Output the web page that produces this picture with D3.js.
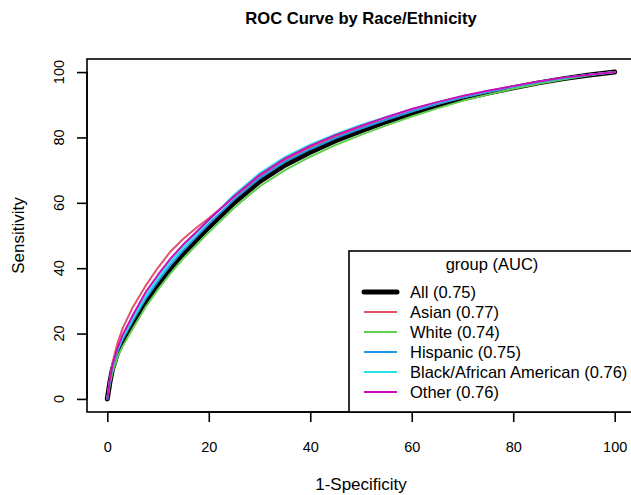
<!DOCTYPE html>
<html>
<head>
<meta charset="utf-8">
<script src="https://cdn.jsdelivr.net/npm/d3@7"></script>
<style>
  body { margin: 0; background: #fff; }
  svg { font-family: "Liberation Sans", Arial, sans-serif; }
</style>
</head>
<body>
<svg id="roc" width="631" height="495"></svg>
<script>
// false positive rate grid (1-Specificity, %)
const fpr = [0, 0.5, 1, 2, 3, 5, 7.5, 10, 12.5, 15, 17.5, 20, 25, 30, 35, 40, 45, 50, 55, 60, 65, 70, 75, 80, 85, 90, 95, 100];

// sensitivity (%) per group
const tprAll      = [0, 5, 9, 14, 17.5, 23, 29.5, 35, 40, 44.5, 48.5, 52.5, 60, 66.5, 71.5, 75.5, 79, 82, 84.8, 87.4, 89.7, 91.8, 93.6, 95.2, 96.7, 98, 99.1, 100];
const tprAsian    = [0, 6, 11, 17, 21.5, 28, 34.5, 40.2, 45.2, 49, 52.3, 55.3, 61.8, 68, 73, 77, 80.2, 83, 85.6, 88, 90.2, 92.2, 93.9, 95.5, 96.9, 98.2, 99.2, 100];
const tprWhite    = [0, 4.5, 8, 12.8, 16, 21.5, 28, 33.5, 38.5, 43, 47, 51, 58.5, 65, 70, 74.1, 77.7, 80.8, 83.7, 86.4, 88.9, 91.2, 93.1, 94.9, 96.4, 97.8, 99, 100];
const tprHispanic = [0, 5.3, 9.5, 14.5, 18.2, 23.8, 30.5, 36, 41, 45.5, 49.5, 53.5, 61, 67.5, 72.5, 76.4, 79.8, 82.7, 85.4, 87.9, 90.2, 92.2, 93.9, 95.5, 96.9, 98.1, 99.2, 100];
const tprBlack    = [0, 5.5, 9.8, 15, 18.7, 24.5, 31.3, 37, 42, 46.5, 50.5, 54.5, 62.5, 69, 74, 77.8, 81, 83.8, 86.3, 88.6, 90.7, 92.6, 94.2, 95.6, 97, 98.2, 99.2, 100];
const tprOther    = [0, 5.8, 10.2, 15.5, 19.5, 25.5, 32.5, 38, 43, 47.3, 51, 54.8, 62, 68.5, 73.5, 77.4, 80.7, 83.5, 86.2, 88.7, 90.8, 92.7, 94.3, 95.7, 97.1, 98.3, 99.2, 100];

const groups = ["All", "Asian", "White", "Hispanic", "Black/African American", "Other"];
const aucs = ["0.75", "0.77", "0.74", "0.75", "0.76", "0.76"];
const series = [tprAll, tprAsian, tprWhite, tprHispanic, tprBlack, tprOther];
const colors = ["#000000", "#DF536B", "#61D04F", "#2297E6", "#28E2E5", "#CD0BBC"];
const widths = [5, 2, 2, 2, 2, 2];
const ticks = [0, 20, 40, 60, 80, 100];

const svg = d3.select("#roc");
const pLeft = 87, pRight = 635, pTop = 59, pBottom = 412;

// R style: 4% padding on both ends
const x = d3.scaleLinear().domain([-4, 104]).range([pLeft, pRight]);
const y = d3.scaleLinear().domain([-4, 104]).range([pBottom, pTop]);

const line = d3.line()
    .x(d => x(d[0]))
    .y(d => y(d[1]));

const plot = svg.append("g");
series.forEach((s, i) => {
    plot.append("path")
        .datum(fpr.map((f, j) => [f, s[j]]))
        .attr("fill", "none")
        .attr("stroke", colors[i])
        .attr("stroke-width", widths[i])
        .attr("stroke-linejoin", "round")
        .attr("stroke-linecap", "round")
        .attr("d", line);
});

// frame
svg.append("rect")
    .attr("x", pLeft).attr("y", pTop)
    .attr("width", pRight - pLeft).attr("height", pBottom - pTop)
    .attr("fill", "none").attr("stroke", "#000").attr("stroke-width", 1.6);

// axes
const xAxis = svg.append("g")
    .attr("transform", "translate(0," + pBottom + ")")
    .call(d3.axisBottom(x).tickValues(ticks).tickSize(10).tickPadding(20));
xAxis.select(".domain").attr("d", "M" + x(0) + ",0H" + x(100)).attr("stroke-width", 1.6);

const yAxis = svg.append("g")
    .attr("transform", "translate(" + pLeft + ",0)")
    .call(d3.axisLeft(y).tickValues(ticks).tickSize(10).tickFormat(""));
yAxis.select(".domain").attr("d", "M0," + y(0) + "V" + y(100)).attr("stroke-width", 1.6);
svg.selectAll(".tick line").attr("stroke-width", 1.6);
xAxis.selectAll("text").attr("font-size", 14.5).attr("fill", "#000");

svg.append("g").selectAll("text")
    .data(ticks)
    .enter().append("text")
    .attr("transform", d => "translate(63.5," + y(d) + ") rotate(-90)")
    .attr("text-anchor", "middle")
    .attr("font-size", 14.5)
    .text(d => d);

// titles
svg.append("text")
    .attr("x", (pLeft + pRight) / 2).attr("y", 24)
    .attr("text-anchor", "middle")
    .attr("font-size", 16.6).attr("font-weight", "bold")
    .text("ROC Curve by Race/Ethnicity");

svg.append("text")
    .attr("x", (pLeft + pRight) / 2).attr("y", 490)
    .attr("text-anchor", "middle")
    .attr("font-size", 17)
    .text("1-Specificity");

svg.append("text")
    .attr("transform", "translate(24," + (pTop + pBottom) / 2 + ") rotate(-90)")
    .attr("text-anchor", "middle")
    .attr("font-size", 17)
    .text("Sensitivity");

// legend
const legend = svg.append("g");
legend.append("rect")
    .attr("x", 349).attr("y", 251)
    .attr("width", 300).attr("height", pBottom - 251)
    .attr("fill", "#fff").attr("stroke", "#000").attr("stroke-width", 1.6);
legend.append("text")
    .attr("x", 492).attr("y", 270)
    .attr("text-anchor", "middle")
    .attr("font-size", 16.5)
    .text("group (AUC)");
groups.forEach((g, i) => {
    const ly = 292 + i * 20;
    legend.append("line")
        .attr("x1", 364).attr("x2", 397)
        .attr("y1", ly).attr("y2", ly)
        .attr("stroke", colors[i])
        .attr("stroke-width", widths[i])
        .attr("stroke-linecap", i === 0 ? "round" : "butt");
    legend.append("text")
        .attr("x", 410).attr("y", ly + 6)
        .attr("font-size", 16.5)
        .text(g + " (" + aucs[i] + ")");
});
</script>
</body>
</html>
